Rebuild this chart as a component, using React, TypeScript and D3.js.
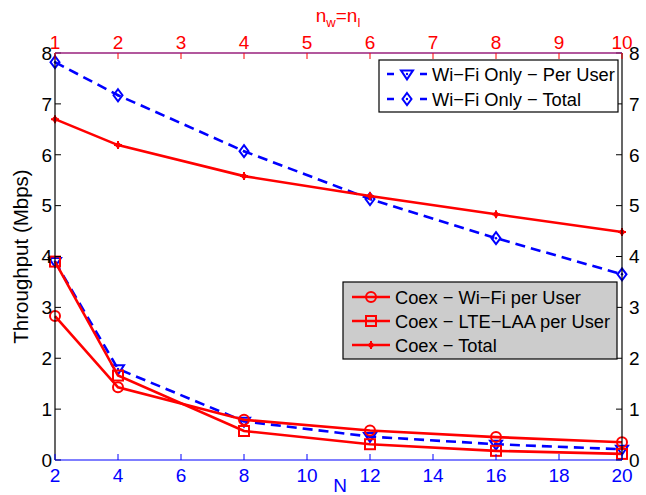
import React from "react";
import * as d3 from "d3";

const nValues = [2, 4, 8, 12, 16, 20];
const wifiOnlyPerUser = [3.9, 1.79, 0.76, 0.46, 0.31, 0.21];
const wifiOnlyTotal = [7.82, 7.17, 6.07, 5.13, 4.36, 3.65];
const coexWifiPerUser = [2.83, 1.43, 0.79, 0.58, 0.45, 0.35];
const coexLtePerUser = [3.9, 1.66, 0.57, 0.31, 0.18, 0.12];
const coexTotal = [6.7, 6.19, 5.58, 5.19, 4.83, 4.48];

const bottomTicks = [2, 4, 6, 8, 10, 12, 14, 16, 18, 20];
const topTicks = [1, 2, 3, 4, 5, 6, 7, 8, 9, 10];
const yTicks = [0, 1, 2, 3, 4, 5, 6, 7, 8];

const W = 646, H = 495;
const L = 55, R = 622, T = 53, B = 460;
const FONT = "'Liberation Sans', Arial, Helvetica, sans-serif";
const BLUE = "#0000ff";
const RED = "#ff0000";
const TICK_FS = 19;
const LEG_FS = 18.3;

const x = d3.scaleLinear().domain([2, 20]).range([L, R]);
const xTop = d3.scaleLinear().domain([1, 10]).range([L, R]);
const y = d3.scaleLinear().domain([0, 8]).range([B, T]);

const line = d3.line<[number, number]>().x(d => x(d[0])).y(d => y(d[1]));
const pts = (vals: number[]) => nValues.map((n, i) => [n, vals[i]] as [number, number]);

type MarkerKind = "tri" | "diamond" | "circle" | "square" | "dot";

function Marker({ kind, cx, cy, color }: { kind: MarkerKind; cx: number; cy: number; color: string }) {
  const sw = 2;
  if (kind === "tri") {
    const s = 6;
    return (
      <g>
        <path d={`M${cx - s},${cy - s * 0.6} L${cx + s},${cy - s * 0.6} L${cx},${cy + s * 0.9} Z`} fill="none" stroke={color} strokeWidth={sw} />
        <circle cx={cx} cy={cy} r={1.2} fill={color} />
      </g>
    );
  }
  if (kind === "diamond") {
    const s = 6;
    return (
      <g>
        <path d={`M${cx},${cy - s} L${cx + s * 0.75},${cy} L${cx},${cy + s} L${cx - s * 0.75},${cy} Z`} fill="none" stroke={color} strokeWidth={sw} />
        <circle cx={cx} cy={cy} r={1.2} fill={color} />
      </g>
    );
  }
  if (kind === "circle") {
    return <circle cx={cx} cy={cy} r={5} fill="none" stroke={color} strokeWidth={sw} />;
  }
  if (kind === "square") {
    return <rect x={cx - 5} y={cy - 5} width={10} height={10} fill="none" stroke={color} strokeWidth={sw} />;
  }
  return (
    <g>
      <path d={`M${cx - 4},${cy} L${cx + 4},${cy} M${cx},${cy - 4} L${cx},${cy + 4}`} stroke={color} strokeWidth={2} />
      <circle cx={cx} cy={cy} r={2.6} fill={color} />
    </g>
  );
}

function Series({ vals, color, dashed, kind }: { vals: number[]; color: string; dashed?: boolean; kind: MarkerKind }) {
  const p = pts(vals);
  return (
    <g>
      <path d={line(p) || ""} fill="none" stroke={color} strokeWidth={2.6} strokeDasharray={dashed ? "10,6" : undefined} />
      {p.map((d, i) => (
        <Marker key={i} kind={kind} cx={x(d[0])} cy={y(d[1])} color={color} />
      ))}
    </g>
  );
}

function LegendEntry({ x0, len, tx, yy, color, dashed, kind, label }: { x0: number; len: number; tx: number; yy: number; color: string; dashed?: boolean; kind: MarkerKind; label: string }) {
  return (
    <g>
      <line x1={x0} x2={x0 + len} y1={yy} y2={yy} stroke={color} strokeWidth={2.4} strokeDasharray={dashed ? "7,26,7" : undefined} />
      <Marker kind={kind} cx={x0 + len / 2} cy={yy} color={color} />
      <text x={tx} y={yy} dy="0.36em" fontSize={LEG_FS} fontFamily={FONT} fill="#000">{label}</text>
    </g>
  );
}

export default function App() {
  return (
    <svg width={W} height={H} style={{ position: "absolute", left: 0, top: 0, background: "#fff" }}>
      <rect x={0} y={0} width={W} height={H} fill="#fff" />
      {/* series */}
      <Series vals={wifiOnlyTotal} color={BLUE} dashed kind="diamond" />
      <Series vals={wifiOnlyPerUser} color={BLUE} dashed kind="tri" />
      <Series vals={coexTotal} color={RED} kind="dot" />
      <Series vals={coexWifiPerUser} color={RED} kind="circle" />
      <Series vals={coexLtePerUser} color={RED} kind="square" />

      {/* left / right axes */}
      <line x1={L} x2={L} y1={T} y2={B} stroke="#000" strokeWidth={1.2} />
      <line x1={R} x2={R} y1={T} y2={B} stroke="#000" strokeWidth={1.2} />
      {yTicks.map(t => (
        <g key={t}>
          <line x1={L} x2={L + 6} y1={y(t)} y2={y(t)} stroke="#000" strokeWidth={1} />
          <line x1={R} x2={R - 6} y1={y(t)} y2={y(t)} stroke="#000" strokeWidth={1} />
          <text x={L - 3} y={y(t)} dy="0.36em" textAnchor="end" fontSize={TICK_FS} fontFamily={FONT}>{t}</text>
          <text x={R + 7} y={y(t)} dy="0.36em" textAnchor="start" fontSize={TICK_FS} fontFamily={FONT}>{t}</text>
        </g>
      ))}

      {/* bottom axis */}
      <line x1={L} x2={R} y1={B} y2={B} stroke={BLUE} strokeWidth={1.2} />
      {bottomTicks.map(t => (
        <g key={t}>
          <line x1={x(t)} x2={x(t)} y1={B} y2={B - 6} stroke={BLUE} strokeWidth={1} />
          <text x={x(t)} y={B + 22} textAnchor="middle" fontSize={TICK_FS} fontFamily={FONT} fill={BLUE}>{t}</text>
        </g>
      ))}
      <text x={340} y={492} textAnchor="middle" fontSize={TICK_FS} fontFamily={FONT} fill={BLUE}>N</text>

      {/* top axis */}
      <line x1={L} x2={R} y1={T} y2={T} stroke="#98207c" strokeWidth={1.6} />
      {topTicks.map(t => (
        <g key={t}>
          <line x1={xTop(t)} x2={xTop(t)} y1={T} y2={T + 6} stroke={RED} strokeWidth={1} />
          <text x={xTop(t)} y={T - 4} textAnchor="middle" fontSize={TICK_FS} fontFamily={FONT} fill={RED}>{t}</text>
        </g>
      ))}
      <text x={338} y={22} textAnchor="middle" fontSize={TICK_FS} fontFamily={FONT} fill={RED}>
        n<tspan fontSize={13} dy={5}>w</tspan><tspan dy={-5}>=n</tspan><tspan fontSize={13} dy={5}>l</tspan>
      </text>

      {/* y label */}
      <text transform={`translate(28,${(T + B) / 2}) rotate(-90)`} textAnchor="middle" fontSize={20.5} fontFamily={FONT}>Throughput (Mbps)</text>

      {/* legend 1 */}
      <rect x={379} y={60} width={239} height={52} fill="#fff" stroke="#000" strokeWidth={1.2} />
      <LegendEntry x0={387} len={40} tx={432} yy={74} color={BLUE} dashed kind="tri" label="Wi−Fi Only − Per User" />
      <LegendEntry x0={387} len={40} tx={432} yy={99} color={BLUE} dashed kind="diamond" label="Wi−Fi Only − Total" />

      {/* legend 2 */}
      <rect x={343} y={282} width={274} height={77} fill="#cccccc" stroke="#000" strokeWidth={1.2} />
      <LegendEntry x0={352} len={38} tx={395} yy={297} color={RED} kind="circle" label="Coex − Wi−Fi per User" />
      <LegendEntry x0={352} len={38} tx={395} yy={321} color={RED} kind="square" label="Coex − LTE−LAA per User" />
      <LegendEntry x0={352} len={38} tx={395} yy={345} color={RED} kind="dot" label="Coex − Total" />
    </svg>
  );
}
